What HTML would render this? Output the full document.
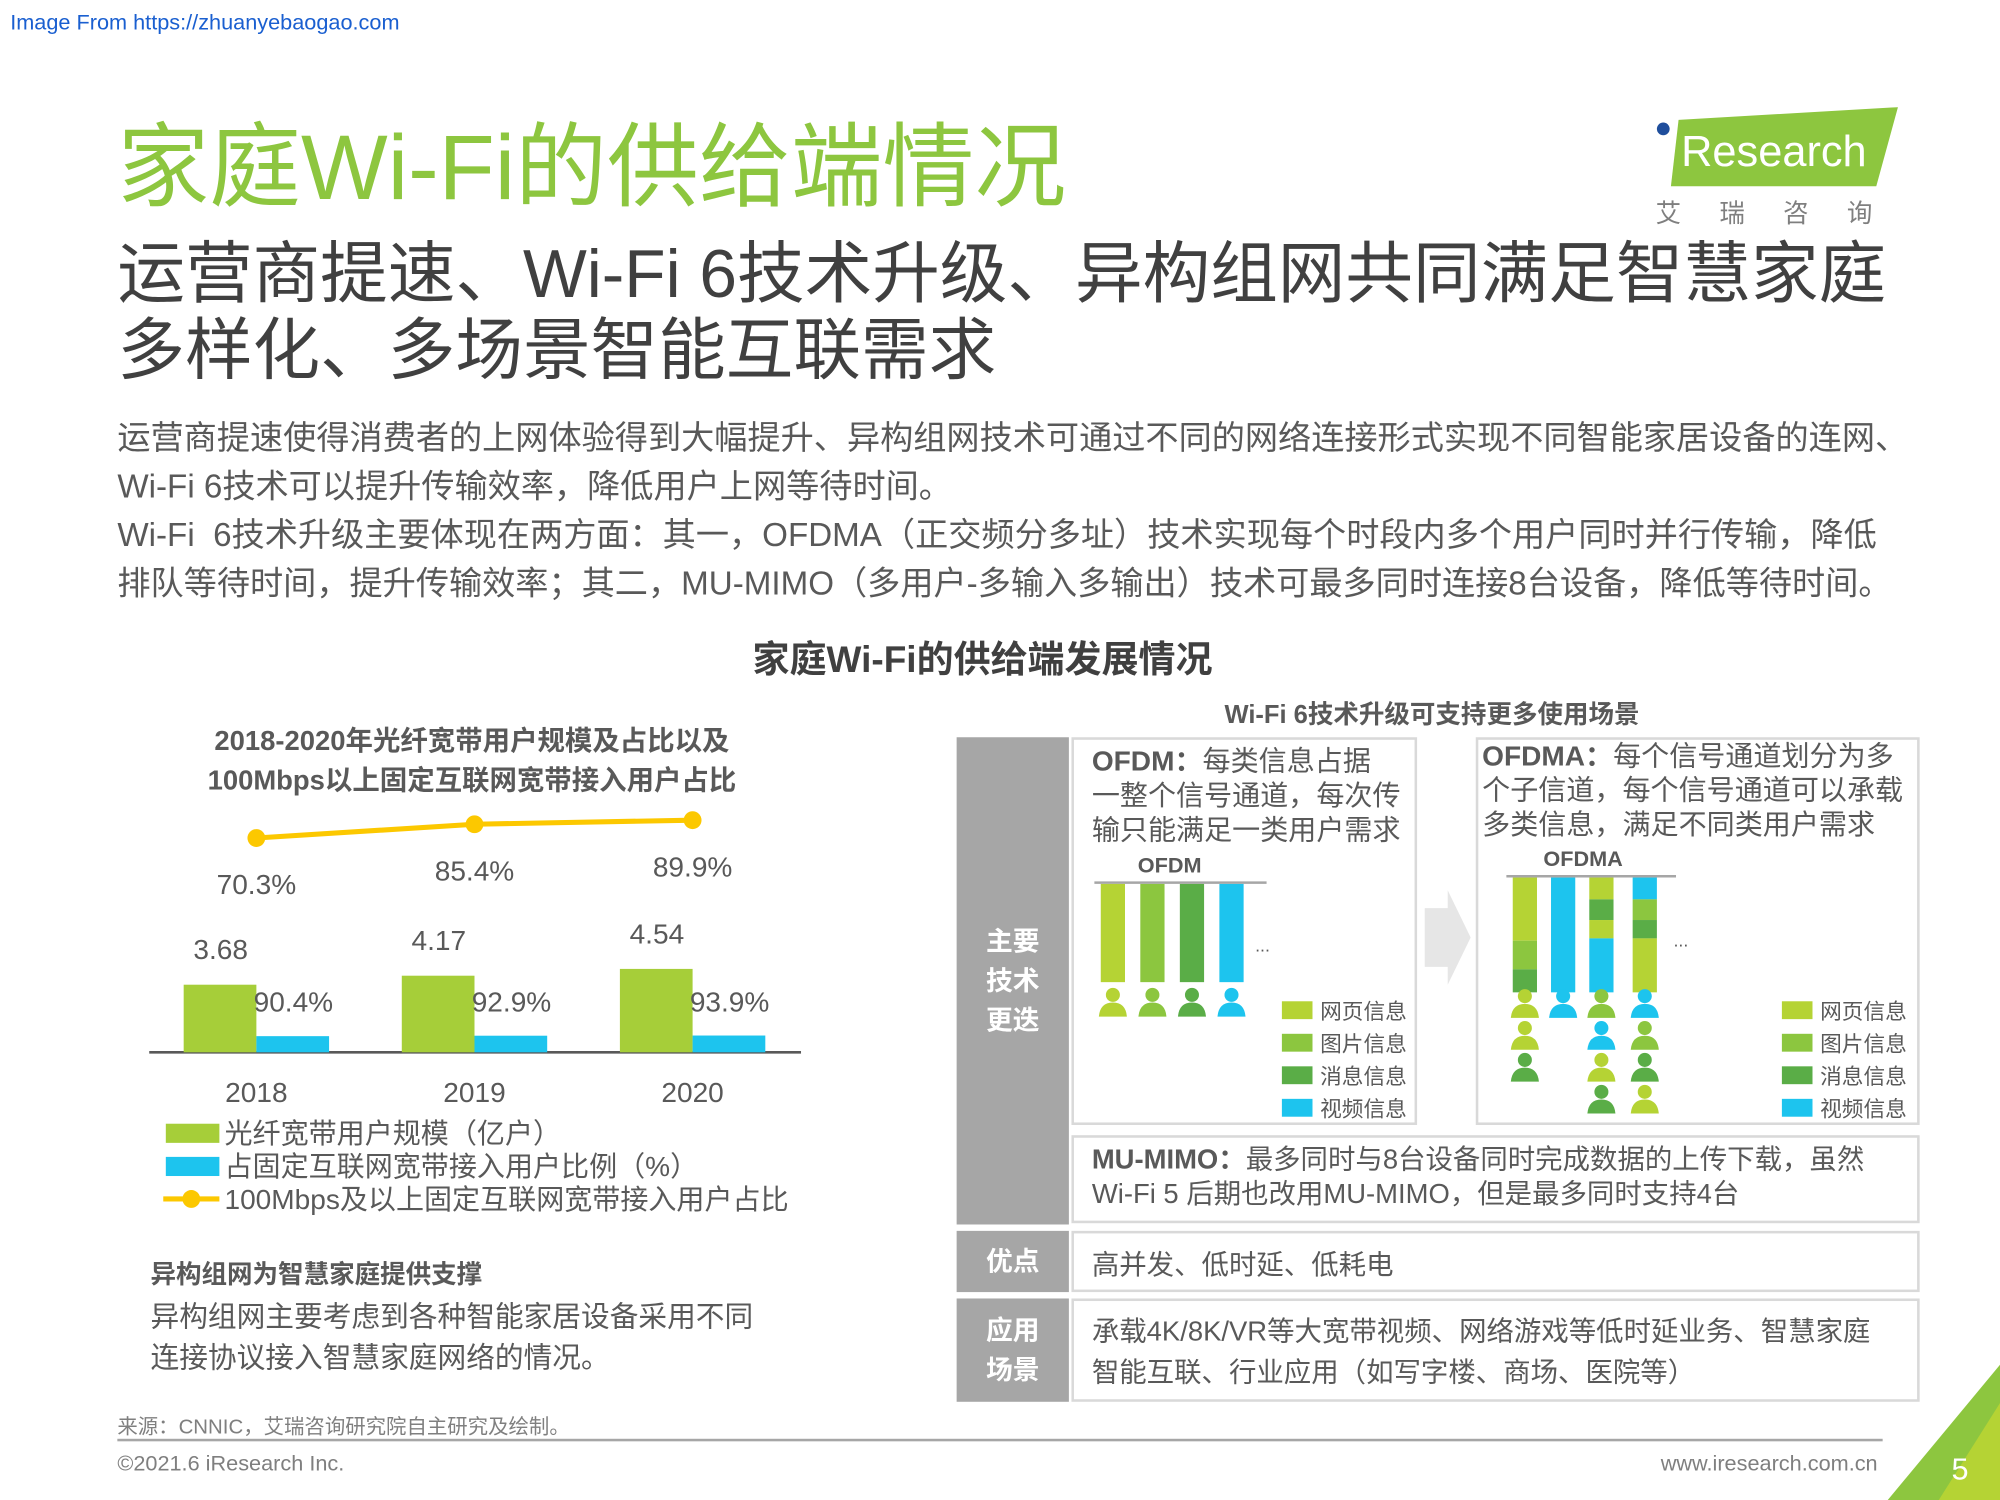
<!DOCTYPE html>
<html><head><meta charset="utf-8">
<style>
html,body{margin:0;padding:0;background:#fff;}
body{width:2000px;height:1500px;overflow:hidden;position:relative;}
#wrap{position:absolute;left:0;top:0;width:1568px;height:1176px;transform:scale(1.27551);transform-origin:0 0;font-family:"Liberation Sans","Noto Sans CJK SC",sans-serif;color:#595959;}
.a{position:absolute;white-space:nowrap;}
.box{position:absolute;border:2px solid #d9d9d9;box-sizing:border-box;background:#fff;}
.gray{position:absolute;background:#a6a6a6;color:#fff;font-weight:bold;font-size:21px;text-align:center;display:flex;align-items:center;justify-content:center;line-height:31px;}
</style></head><body>
<div id="wrap">
<div class="a" style="left:8px;top:8px;font-size:17px;color:#1a5fd0;">Image From https://zhuanyebaogao.com</div>
<div class="a" style="left:92px;top:72px;font-size:72px;color:#8dc63f;">家庭Wi-Fi的供给端情况</div>
<div class="a" style="left:1296px;top:84px;width:194px;height:96px;">
 <svg width="194" height="96"><polygon points="20,10 192,0 175,62 14,62" fill="#8dc63f"/><circle cx="8" cy="17" r="5" fill="#1f4e9c"/><rect x="4" y="25" width="7" height="24" fill="#fff"/><text x="22" y="46" font-size="34" fill="#fff" font-family="Liberation Sans">Research</text><text x="2" y="90" font-size="20" fill="#7f7f7f" letter-spacing="30" font-family="Noto Sans CJK SC">艾瑞咨询</text></svg>
</div>
<div class="a" style="left:92px;top:186px;font-size:53px;line-height:60px;color:#404040;">运营商提速、Wi-Fi 6技术升级、异构组网共同满足智慧家庭<br>多样化、多场景智能互联需求</div>
<div class="a" style="left:92px;top:324px;font-size:26px;line-height:38px;color:#595959;">运营商提速使得消费者的上网体验得到大幅提升、异构组网技术可通过不同的网络连接形式实现不同智能家居设备的连网、<br>Wi-Fi 6技术可以提升传输效率，降低用户上网等待时间。<br>Wi-Fi&nbsp; 6技术升级主要体现在两方面：其一，OFDMA（正交频分多址）技术实现每个时段内多个用户同时并行传输，降低<br>排队等待时间，提升传输效率；其二，MU-MIMO（多用户-多输入多输出）技术可最多同时连接8台设备，降低等待时间。</div>
<div class="a" style="left:590px;top:494px;font-size:29px;font-weight:bold;color:#404040;">家庭Wi-Fi的供给端发展情况</div>
<div class="a" style="left:120px;top:566px;width:500px;text-align:center;font-size:21.5px;line-height:31px;font-weight:bold;color:#595959;">2018-2020年光纤宽带用户规模及占比以及<br>100Mbps以上固定互联网宽带接入用户占比</div>
<svg id="chart" class="a" style="left:0;top:0" width="760" height="960"></svg>
<div class="a" style="left:118px;top:983px;font-size:20px;font-weight:bold;color:#595959;">异构组网为智慧家庭提供支撑</div>
<div class="a" style="left:118px;top:1017px;font-size:22.5px;line-height:32px;color:#595959;">异构组网主要考虑到各种智能家居设备采用不同<br>连接协议接入智慧家庭网络的情况。</div>
<div class="a" style="left:960px;top:544px;font-size:20px;font-weight:bold;color:#595959;">Wi-Fi 6技术升级可支持更多使用场景</div>
<div class="gray" style="left:750px;top:578px;width:88px;height:382px;">主要<br>技术<br>更迭</div>
<div class="gray" style="left:750px;top:965px;width:88px;height:48px;">优点</div>
<div class="gray" style="left:750px;top:1018px;width:88px;height:81px;">应用<br>场景</div>
<div class="box" style="left:840px;top:578px;width:271px;height:304px;"></div>
<div class="box" style="left:1157px;top:578px;width:348px;height:304px;"></div>
<div class="box" style="left:840px;top:890px;width:665px;height:69px;"></div>
<div class="box" style="left:840px;top:965px;width:665px;height:48px;"></div>
<div class="box" style="left:840px;top:1018px;width:665px;height:81px;"></div>
<div class="a" style="left:856px;top:583px;font-size:22px;line-height:27px;"><b>OFDM：</b>每类信息占据<br>一整个信号通道，每次传<br>输只能满足一类用户需求</div>
<div class="a" style="left:1162px;top:579px;font-size:22px;line-height:27px;"><b>OFDMA：</b>每个信号通道划分为多<br>个子信道，每个信号通道可以承载<br>多类信息，满足不同类用户需求</div>
<div class="a" style="left:856px;top:896px;font-size:21.5px;line-height:27px;"><b>MU-MIMO：</b>最多同时与8台设备同时完成数据的上传下载，虽然<br>Wi-Fi 5 后期也改用MU-MIMO，但是最多同时支持4台</div>
<div class="a" style="left:856px;top:975px;font-size:21.5px;">高并发、低时延、低耗电</div>
<div class="a" style="left:856px;top:1028px;font-size:21.5px;line-height:32px;">承载4K/8K/VR等大宽带视频、网络游戏等低时延业务、智慧家庭<br>智能互联、行业应用（如写字楼、商场、医院等）</div>
<svg id="tech" class="a" style="left:0;top:0" width="1568" height="900"></svg>
<div class="a" style="left:92px;top:1105px;font-size:16px;color:#7f7f7f;">来源：CNNIC，艾瑞咨询研究院自主研究及绘制。</div>
<div class="a" style="left:92px;top:1128px;width:1384px;height:2px;background:#a6a6a6;"></div>
<div class="a" style="left:92px;top:1138px;font-size:17px;color:#7f7f7f;">©2021.6 iResearch Inc.</div>
<div class="a" style="left:1302px;top:1138px;font-size:17px;color:#7f7f7f;">www.iresearch.com.cn</div>
<svg class="a" style="left:1470px;top:1060px" width="98" height="116"><polygon points="98,10 98,116 10,116" fill="#8dc63f"/><polygon points="98,40 98,116 50,116" fill="#b5d334"/><text x="60" y="100" font-size="24" fill="#fff" font-family="Liberation Sans">5</text></svg>
</div>
<script>
const years=['2018','2019','2020'];
const fiberUsers=[3.68,4.17,4.54];
const fiberShare=[90.4,92.9,93.9];
const mbpsShare=[70.3,85.4,89.9];
const NS='http://www.w3.org/2000/svg';
function mk(p,t,a){const e=document.createElementNS(NS,t);for(const k in a)e.setAttribute(k,a[k]);p.appendChild(e);return e;}
const C=document.getElementById('chart');
const base=825,x0=117,x1=628;
const xC=i=>201+i*171;
const yU=v=>base-v*14.4;
const yS=v=>base-v*0.14;
const yL=v=>657-(v-70.3)*0.714;
let ax=mk(C,'line',{x1:x0,x2:x1,y1:base,y2:base,stroke:'#595959','stroke-width':2});


years.forEach((y,i)=>{
 let g=mk(C,'rect',{x:xC(i)-57,y:yU(fiberUsers[i]),width:57,height:base-yU(fiberUsers[i]),fill:'#a6ce39'});
 
 
 let b=mk(C,'rect',{x:xC(i),y:yS(fiberShare[i]),width:57,height:base-yS(fiberShare[i]),fill:'#1dc4ee'});
 
 
 let t=mk(C,'text',{x:xC(i)-28,y:yU(fiberUsers[i])-20,'font-size':22,fill:'#595959','text-anchor':'middle'});t.textContent=fiberUsers[i].toFixed(2);
 
 
 let t2=mk(C,'text',{x:xC(i)+29,y:793,'font-size':22,fill:'#595959','text-anchor':'middle'});t2.textContent=fiberShare[i].toFixed(1)+'%';
 
 
 let t3=mk(C,'text',{x:xC(i),y:yL(mbpsShare[i])+44,'font-size':22,fill:'#595959','text-anchor':'middle'});t3.textContent=mbpsShare[i].toFixed(1)+'%';
 
 
 let t4=mk(C,'text',{x:xC(i),y:864,'font-size':22,fill:'#595959','text-anchor':'middle'});t4.textContent=y;
 
 
});
let pl=mk(C,'polyline',{points:years.map((y,i)=>xC(i)+','+yL(mbpsShare[i])).join(' '),fill:'none',stroke:'#fcc800','stroke-width':4});


years.forEach((y,i)=>{let c=mk(C,'circle',{cx:xC(i),cy:yL(mbpsShare[i]),r:7,fill:'#fcc800'});
 
 });
const legs=[['光纤宽带用户规模（亿户）','#a6ce39','rect'],['占固定互联网宽带接入用户比例（%）','#1dc4ee','rect'],['100Mbps及以上固定互联网宽带接入用户占比','#fcc800','line']];
legs.forEach((l,i)=>{const y=888+i*26;
 let g=mk(C,'g',{});
 
 
 if(l[2]=='rect')mk(g,'rect',{x:130,y:y-7,width:42,height:15,fill:l[1]});
 else{mk(g,'line',{x1:128,x2:172,y1:y,y2:y,stroke:l[1],'stroke-width':4});mk(g,'circle',{cx:150,cy:y,r:7,fill:l[1]});}
 let t=mk(g,'text',{x:176,y:y+8,'font-size':22,fill:'#595959'});t.textContent=l[0];});
const T=document.getElementById('tech');
const col={w:'#b5d334',p:'#8cc63f',m:'#5aad47',v:'#1dc4ee'};
function person(x,y,c,name){let g=mk(T,'g',{});
 
 
 mk(g,'circle',{cx:x,cy:y-5,r:5.5,fill:c});mk(g,'path',{d:`M${x-11},${y+12} Q${x-10},${y+1} ${x},${y+1} Q${x+10},${y+1} ${x+11},${y+12} Z`,fill:c});}
mk(T,'line',{x1:858,x2:993,y1:692,y2:692,stroke:'#a6a6a6','stroke-width':2});
let ot=mk(T,'text',{x:892,y:684,'font-size':17,'font-weight':'bold',fill:'#595959'});ot.textContent='OFDM';
['w','p','m','v'].forEach((k,i)=>{const x=863+i*31;
 let r=mk(T,'rect',{x:x,y:693,width:19,height:77,fill:col[k]});
 
 
 person(x+9.5,785,col[k],'ofdm-user-'+(i+1));});
let d1=mk(T,'text',{x:984,y:746,'font-size':14,fill:'#595959'});d1.textContent='...';
mk(T,'line',{x1:1181,x2:1314,y1:687,y2:687,stroke:'#a6a6a6','stroke-width':2});
let at=mk(T,'text',{x:1210,y:679,'font-size':17,'font-weight':'bold',fill:'#595959'});at.textContent='OFDMA';
const segs=[[['w',.55],['p',.8],['m',1]],[['v',1]],[['w',.19],['m',.37],['w',.53],['v',1]],[['v',.19],['p',.37],['m',.53],['w',1]]];
const users=[['w','w','m'],['v'],['p','v','w','m'],['v','p','m','w']];
const cx=[1186,1216,1246,1280];
segs.forEach((s,i)=>{let prev=0;s.forEach(([k,e],j)=>{let r=mk(T,'rect',{x:cx[i],y:688+prev*90,width:19,height:(e-prev)*90,fill:col[k]});
 
 prev=e;});
 users[i].forEach((k,j)=>person(cx[i]+9.5,786+j*25,col[k],'ofdma-user-'+(i+1)+'-'+(j+1)));});
let d2=mk(T,'text',{x:1312,y:742,'font-size':14,fill:'#595959'});d2.textContent='...';
const leg=[['网页信息','w'],['图片信息','p'],['消息信息','m'],['视频信息','v']];
[1005,1397].forEach((lx,b)=>leg.forEach((l,i)=>{let g=mk(T,'g',{});
 
 
 mk(g,'rect',{x:lx,y:785+i*25.5,width:24,height:14,fill:col[l[1]]});
 let t=mk(g,'text',{x:lx+30,y:799+i*25.5,'font-size':17,fill:'#595959'});t.textContent=l[0];}));
let ar=mk(T,'polygon',{points:'1117,712 1135,712 1135,698 1153,735 1135,772 1135,758 1117,758',fill:'#e6e6e6'});


</script>
</body></html>
